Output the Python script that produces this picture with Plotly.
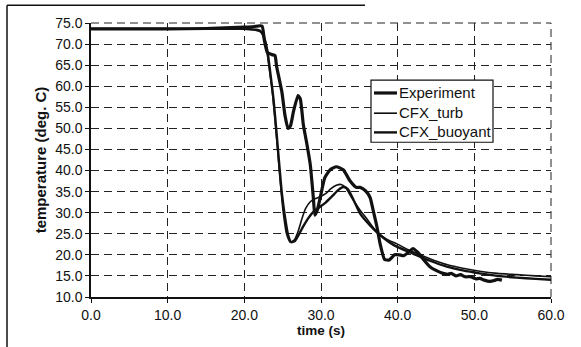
import plotly.graph_objects as go

# Experiment
exp_t = [0, 5, 10, 15, 20, 21, 22.3, 22.6, 23.0, 23.6, 24.0, 24.2, 24.9, 25.3, 25.7, 26.0, 26.4, 27.0,
         27.3, 27.7, 28.1, 28.6, 29.0, 29.2, 29.5, 29.9, 30.5, 31.2, 32.0, 32.9, 33.8, 34.6, 35.1, 35.8,
         36.4, 36.8, 37.3, 37.7, 38.3, 38.9, 39.6, 40.2, 40.8, 41.4, 42.0, 42.5, 42.9, 43.5, 44.2, 45.0,
         45.9, 46.5, 47.0, 47.6, 48.2, 48.8, 49.5, 50.2, 50.7, 51.3, 52.0, 52.6, 53.0, 53.6]
exp_T = [73.6, 73.6, 73.6, 73.7, 74.0, 74.1, 74.3, 71.0, 68.0, 67.5, 67.3, 64.8, 58.6, 53.1, 50.0, 50.5, 53.9, 57.8,
         57.0, 50.8, 46.9, 41.4, 33.6, 29.4, 30.5, 33.6, 38.3, 40.2, 40.9, 40.2, 37.5, 36.0, 36.0, 35.2,
         33.6, 30.6, 26.6, 22.7, 18.9, 18.8, 20.0, 20.0, 19.8, 20.6, 21.5, 20.8, 20.0, 18.6, 17.2, 16.3,
         15.6, 15.4, 15.6, 15.0, 15.3, 14.8, 14.8, 14.3, 14.4, 14.0, 13.7, 13.9, 14.2, 14.0]

# CFX_turb
turb_t = [0, 5, 10, 15, 20, 21, 22.0, 22.4, 22.9, 23.3, 23.7, 24.1, 24.5, 24.8, 25.1, 25.5, 26.0, 26.5,
          27.0, 27.5, 28.0, 28.6, 29.2, 29.9, 30.6, 31.3, 32.0, 32.6, 33.2, 33.8, 34.5, 35.1, 36.0, 37.3,
          38.5, 39.9, 41.4, 42.9, 44.6, 46.4, 48.5, 50.7, 53.0, 55.5, 58.0, 60.0]
turb_T = [73.5, 73.5, 73.5, 73.5, 73.5, 73.4, 73.0, 72.2, 68.7, 63.5, 57.8, 50.0, 41.4, 35.0, 29.7, 25.0, 23.0, 23.5,
          25.5, 28.5, 31.0, 32.6, 33.3, 33.8, 34.5, 35.7, 36.5, 36.7, 36.0, 34.2, 32.2, 30.6, 28.5, 25.4,
          23.8, 22.6, 21.2, 20.0, 18.8, 17.7, 16.8, 16.1, 15.6, 15.3, 15.0, 14.8]

# CFX_buoyant
buoy_t = [0, 5, 10, 15, 20, 21, 22.0, 22.5, 23.0, 23.4, 23.8, 24.2, 24.6, 24.9, 25.3, 25.7, 26.1, 26.6,
          27.1, 27.7, 28.3, 29.0, 29.8, 30.6, 31.4, 32.2, 32.9, 33.5, 34.2, 35.1, 36.4, 37.7, 39.5, 42.0,
          44.2, 46.4, 48.5, 50.7, 53.0, 55.5, 58.0, 60.0]
buoy_T = [73.6, 73.6, 73.6, 73.6, 73.6, 73.5, 73.2, 72.0, 68.5, 63.0, 57.0, 49.0, 40.5, 34.5, 29.0, 24.8, 23.0, 23.3,
          24.8, 26.8, 28.6, 30.2, 31.3, 32.4, 33.8, 35.3, 36.1, 35.6, 33.2, 29.8, 27.0, 24.7, 22.3, 20.3,
          18.6, 17.2, 16.3, 15.6, 15.0, 14.6, 14.3, 14.1]

series_names = ["Experiment", "CFX_turb", "CFX_buoyant"]
series_widths = [3.2, 1.6, 2.4]
x_ticks = [0, 10, 20, 30, 40, 50, 60]
y_ticks = [10, 15, 20, 25, 30, 35, 40, 45, 50, 55, 60, 65, 70, 75]

FONT = "Liberation Sans, Arial, sans-serif"
INK = "#111"
DASH = "8px,5px"

fig = go.Figure()
for (tt, vv), name, w, sm in zip([(exp_t, exp_T), (turb_t, turb_T), (buoy_t, buoy_T)],
                                  series_names, series_widths, [0.5, 0.6, 0.6]):
    fig.add_trace(go.Scatter(x=tt, y=vv, mode="lines", name=name, showlegend=False,
                             line=dict(color=INK, width=w, shape="spline", smoothing=sm)))

grid = dict(showgrid=True, gridcolor="#222", griddash=DASH, gridwidth=1)
fig.update_xaxes(range=[0, 60], tickvals=x_ticks, ticktext=[f"{v:.1f}" for v in x_ticks],
                 showline=True, linecolor=INK, linewidth=1.5, ticks="outside", ticklen=4,
                 tickcolor=INK, zeroline=False,
                 title=dict(text="<b>time (s)</b>", font=dict(size=13.5, color=INK, family=FONT), standoff=3),
                 tickfont=dict(size=14, color=INK, family=FONT), **grid)
fig.update_yaxes(range=[10, 75], tickvals=y_ticks, ticktext=[f"{v:.1f}" for v in y_ticks],
                 showline=True, linecolor=INK, linewidth=1.5, ticks="outside", ticklen=4,
                 tickcolor=INK, zeroline=False,
                 title=dict(text="<b>temperature (deg. C)</b>", font=dict(size=15, color=INK, family=FONT), standoff=5),
                 tickfont=dict(size=14, color=INK, family=FONT), **grid)

# figure-pixel -> paper helpers for the decoration (frame, legend box)
L, R, T, B = 91, 551, 23, 301
px = lambda v: (v - L) / (R - L)
py = lambda v: (B - v) / (B - T)

shapes = [
    # dashed gridlines on the top and right edges
    dict(type="line", xref="paper", yref="paper", x0=0, x1=1, y0=1, y1=1,
         line=dict(color="#222", width=1, dash=DASH), layer="below"),
    dict(type="line", xref="paper", yref="paper", x0=1, x1=1, y0=0, y1=1,
         line=dict(color="#222", width=1, dash=DASH), layer="below"),
    # outer frame (left and top)
    dict(type="line", xref="paper", yref="paper", x0=px(7), x1=px(7), y0=py(5), y1=py(352),
         line=dict(color=INK, width=1.5)),
    dict(type="line", xref="paper", yref="paper", x0=px(7), x1=px(365), y0=py(5), y1=py(5),
         line=dict(color=INK, width=1.5)),
    # legend box
    dict(type="rect", xref="paper", yref="paper", x0=px(371), x1=px(493), y0=py(81), y1=py(144),
         line=dict(color=INK, width=1.2), fillcolor="white"),
]
annotations = []
row_y = [94, 114.5, 134]
for name, w, ry in zip(series_names, series_widths, row_y):
    shapes.append(dict(type="line", xref="paper", yref="paper", x0=px(374), x1=px(397),
                       y0=py(ry), y1=py(ry), line=dict(color=INK, width=w)))
    annotations.append(dict(text=name, xref="paper", yref="paper", x=px(397), y=py(ry - 0.5),
                            xanchor="left", yanchor="middle", showarrow=False,
                            font=dict(size=15, color=INK, family=FONT)))

fig.update_layout(
    width=581, height=347,
    margin=dict(l=91, r=30, t=23, b=46),
    paper_bgcolor="white", plot_bgcolor="white",
    font=dict(family=FONT, color=INK),
    showlegend=False,
    shapes=shapes, annotations=annotations,
)

fig.write_html("out.html")
